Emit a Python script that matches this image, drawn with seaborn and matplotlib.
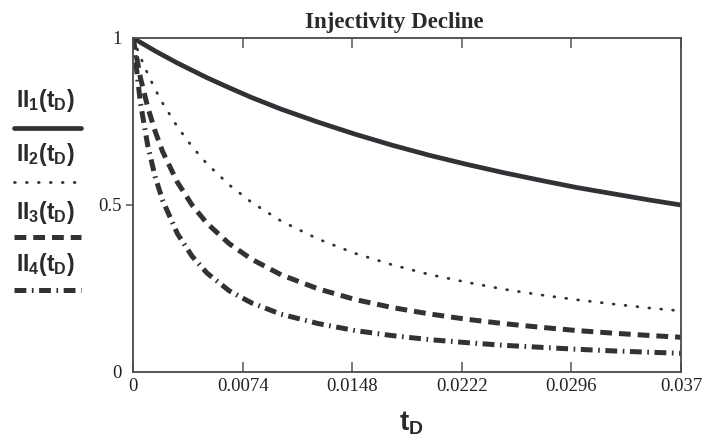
import pandas as pd
import seaborn as sns
import matplotlib
matplotlib.use('Agg')
import matplotlib.pyplot as plt
from matplotlib.lines import Line2D

# values
t_d = [0.0, 0.0005, 0.001, 0.0015, 0.002, 0.003, 0.004, 0.005, 0.0065, 0.008, 0.010,
       0.0125, 0.015, 0.0175, 0.020, 0.0225, 0.025, 0.0275, 0.030, 0.0325, 0.035, 0.037]
ii_1 = [1.0, 0.987, 0.974, 0.961, 0.949, 0.925, 0.903, 0.881, 0.851, 0.822, 0.787,
        0.748, 0.712, 0.679, 0.649, 0.622, 0.597, 0.574, 0.552, 0.533, 0.514, 0.500]
ii_2 = [1.0, 0.943, 0.892, 0.846, 0.805, 0.734, 0.674, 0.623, 0.560, 0.508, 0.452,
        0.398, 0.355, 0.321, 0.292, 0.269, 0.248, 0.231, 0.216, 0.203, 0.191, 0.183]
ii_3 = [1.0, 0.881, 0.792, 0.720, 0.660, 0.568, 0.499, 0.445, 0.384, 0.338, 0.291,
        0.249, 0.217, 0.193, 0.174, 0.158, 0.145, 0.134, 0.124, 0.116, 0.109, 0.104]
ii_4 = [1.0, 0.806, 0.677, 0.584, 0.514, 0.414, 0.346, 0.296, 0.243, 0.207, 0.173,
        0.145, 0.124, 0.109, 0.097, 0.088, 0.080, 0.074, 0.068, 0.063, 0.059, 0.056]

series_labels = [r'$\mathrm{II_1(t_D)}$', r'$\mathrm{II_2(t_D)}$',
                 r'$\mathrm{II_3(t_D)}$', r'$\mathrm{II_4(t_D)}$']
x_ticks = [0, 0.0074, 0.0148, 0.0222, 0.0296, 0.037]
x_tick_labels = ['0', '0.0074', '0.0148', '0.0222', '0.0296', '0.037']
y_ticks = [0, 0.5, 1]
y_tick_labels = ['0', '0.5', '1']

sns.set_theme(style='white')
plt.rcParams['font.family'] = ['Liberation Serif', 'DejaVu Serif']
plt.rcParams['mathtext.fontset'] = 'custom'
plt.rcParams['mathtext.rm'] = 'Liberation Sans:bold'
plt.rcParams['mathtext.it'] = 'Liberation Sans:bold'
plt.rcParams['mathtext.bf'] = 'Liberation Sans:bold'
plt.rcParams['lines.scale_dashes'] = False

ink = '#323236'
styles = [
    dict(linestyle='-', lw=3.4),
    dict(linestyle=(0, (0.6, 8.0)), lw=2.0, dash_capstyle='round'),
    dict(linestyle=(0, (8.5, 5.0)), lw=3.6),
    dict(linestyle=(0, (8.5, 4.0, 1.2, 4.0)), lw=3.6),
]

df = pd.DataFrame({'t_D': t_d, 'II1': ii_1, 'II2': ii_2, 'II3': ii_3, 'II4': ii_4})

fig = plt.figure(figsize=(7.11, 4.46), dpi=100)
ax = fig.add_axes([133 / 711, 74 / 446, 548 / 711, 334 / 446])

for col, st in zip(['II1', 'II2', 'II3', 'II4'], styles):
    sns.lineplot(data=df, x='t_D', y=col, ax=ax, color=ink, **st)

ax.set_xlim(0, 0.037)
ax.set_ylim(0, 1)
ax.set_xticks(x_ticks)
ax.set_xticklabels(x_tick_labels)
ax.set_yticks(y_ticks)
ax.set_yticklabels(y_tick_labels)
ax.tick_params(axis='x', direction='in', length=7, width=1.1, color='#555555',
               top=True, bottom=True, labelsize=13.5, labelcolor='#222222', pad=4)
ax.tick_params(axis='y', direction='out', length=5, width=1.1, color='#555555',
               left=True, labelsize=13.5, labelcolor='#222222', pad=3)
for i in (0, 2):
    ax.yaxis.get_major_ticks()[i].tick1line.set_visible(False)

for sp in ax.spines.values():
    sp.set_color('#4a4a4a')
    sp.set_linewidth(1.3)

ax.set_title('Injectivity Decline', fontsize=16.5, fontweight='bold', color='#2a2a2e',
             pad=7, x=0.477)
ax.set_xlabel(r'$\mathrm{t_D}$', fontsize=20, color='#2a2a2e')
ax.xaxis.set_label_coords(0.508, -0.152)
ax.xaxis.label.set_va('center')
ax.set_ylabel('')

# legend stacked on the left, label above each line sample
text_y = [100, 155, 212, 265]
line_y = [128, 182, 237, 290]
for lab, st, ty, ly in zip(series_labels, styles, text_y, line_y):
    fig.text(16 / 711, 1 - ty / 446, lab, fontsize=16.5, color='#2a2a2e', va='center', ha='left')
    fig.add_artist(Line2D([14 / 711, 81 / 711], [1 - ly / 446] * 2, transform=fig.transFigure,
                          color=ink, **st))

fig.savefig('out.png', dpi=100)
